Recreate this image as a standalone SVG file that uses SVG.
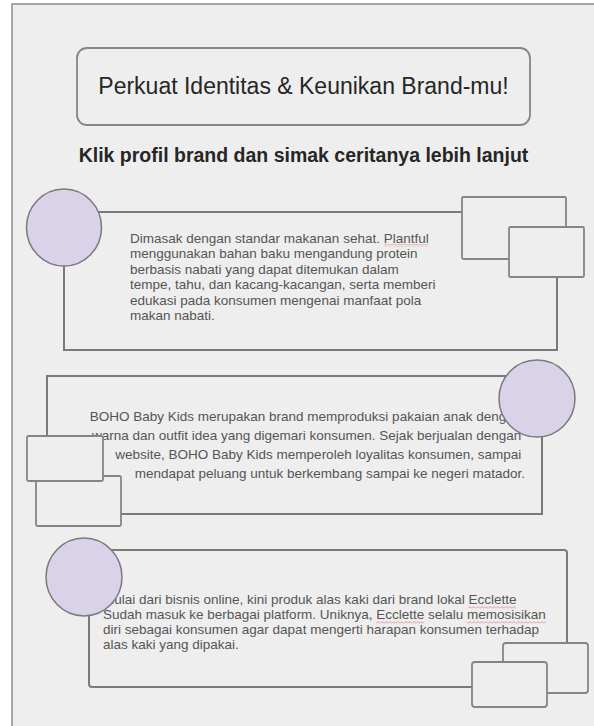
<svg xmlns="http://www.w3.org/2000/svg" width="594" height="726" viewBox="0 0 594 726">
  <defs>
    <style>
      .frame { fill: #eeeeee; stroke: #a6a6a6; stroke-width: 2; }
      .card { fill: none; stroke: #7a7a7a; stroke-width: 2; }
      .thumb { fill: #eeeeee; stroke: #858585; stroke-width: 1.8; }
      .avatar { fill: #d9d2e9; stroke: #7a7a7a; stroke-width: 1.5; }
      .title { font-family: "Liberation Sans", Arial, sans-serif; font-size: 23px; fill: #262626; }
      .sub { font-family: "Liberation Sans", Arial, sans-serif; font-size: 19.5px; font-weight: bold; fill: #262626; }
      .body { font-family: "Liberation Sans", Arial, sans-serif; font-size: 13.5px; fill: #555555; }
      .squig { fill: url(#squiggle); }
    </style>
    <pattern id="squiggle" x="0" y="0" width="4" height="3" patternUnits="userSpaceOnUse">
      <polyline points="0,2.5 2,0.5 4,2.5" fill="none" stroke="#e08080" stroke-width="0.8"/>
    </pattern>
  </defs>

  <rect width="594" height="726" fill="#ffffff"/>
  <g id="frame">
    <rect class="frame" x="12" y="4" width="600" height="740"/>
  </g>

  <g id="title">
    <rect x="77" y="48" width="453" height="77" rx="10" ry="10" fill="#eeeeee" stroke="#858585" stroke-width="1.8"/>
    <text class="title" x="303.5" y="94" text-anchor="middle">Perkuat Identitas &amp; Keunikan Brand-mu!</text>
  </g>

  <g id="subtitle">
    <text class="sub" x="303.5" y="162" text-anchor="middle">Klik profil brand dan simak ceritanya lebih lanjut</text>
  </g>

  <g id="card-plantful">
    <rect class="card" x="64" y="212" width="493" height="138"/>
    <text class="body" x="130">
      <tspan x="130" y="242.5">Dimasak dengan standar makanan sehat. Plantful</tspan>
      <tspan x="130" y="258">menggunakan bahan baku mengandung protein</tspan>
      <tspan x="130" y="273.5">berbasis nabati yang dapat ditemukan dalam</tspan>
      <tspan x="130" y="289">tempe, tahu, dan kacang-kacangan, serta memberi</tspan>
      <tspan x="130" y="304.5">edukasi pada konsumen mengenai manfaat pola</tspan>
      <tspan x="130" y="320">makan nabati.</tspan>
    </text>
    <rect class="squig" x="384" y="244" width="44" height="3"/>
    <ellipse class="avatar" cx="64" cy="227.5" rx="37.5" ry="38.5"/>
    <rect class="thumb" x="462" y="197" width="104" height="62" rx="1.5"/>
    <rect class="thumb" x="509" y="227" width="75" height="50" rx="1.5"/>
  </g>

  <g id="card-boho">
    <rect class="card" x="47" y="376" width="495" height="138"/>
    <text class="body" text-anchor="end">
      <tspan x="525" y="421">BOHO Baby Kids merupakan brand memproduksi pakaian anak dengan</tspan>
      <tspan x="525" y="440">warna dan outfit idea yang digemari konsumen. Sejak berjualan dengan</tspan>
      <tspan x="525" y="459">website, BOHO Baby Kids memperoleh loyalitas konsumen, sampai</tspan>
      <tspan x="525" y="478">mendapat peluang untuk berkembang sampai ke negeri matador.</tspan>
    </text>
    <ellipse class="avatar" cx="537" cy="398.5" rx="38" ry="38.5"/>
    <rect class="thumb" x="36" y="476" width="85" height="50" rx="1.5"/>
    <rect class="thumb" x="27" y="436" width="76" height="45" rx="1.5"/>
  </g>

  <g id="card-ecclette">
    <rect class="card" x="89" y="550" width="478" height="137" rx="3" ry="3"/>
    <text class="body">
      <tspan x="103" y="604">Mulai dari bisnis online, kini produk alas kaki dari brand lokal Ecclette</tspan>
      <tspan x="103" y="619">Sudah masuk ke berbagai platform. Uniknya, Ecclette selalu memosisikan</tspan>
      <tspan x="103" y="634">diri sebagai konsumen agar dapat mengerti harapan konsumen terhadap</tspan>
      <tspan x="103" y="649">alas kaki yang dipakai.</tspan>
    </text>
    <rect class="squig" x="468" y="606" width="48" height="3"/>
    <rect class="squig" x="376" y="621" width="48" height="3"/>
    <rect class="squig" x="467" y="621" width="79" height="3"/>
    <ellipse class="avatar" cx="84" cy="577" rx="38" ry="39"/>
    <rect class="thumb" x="503" y="643" width="85" height="50" rx="3"/>
    <rect class="thumb" x="472" y="662" width="75" height="45" rx="3"/>
  </g>
</svg>
